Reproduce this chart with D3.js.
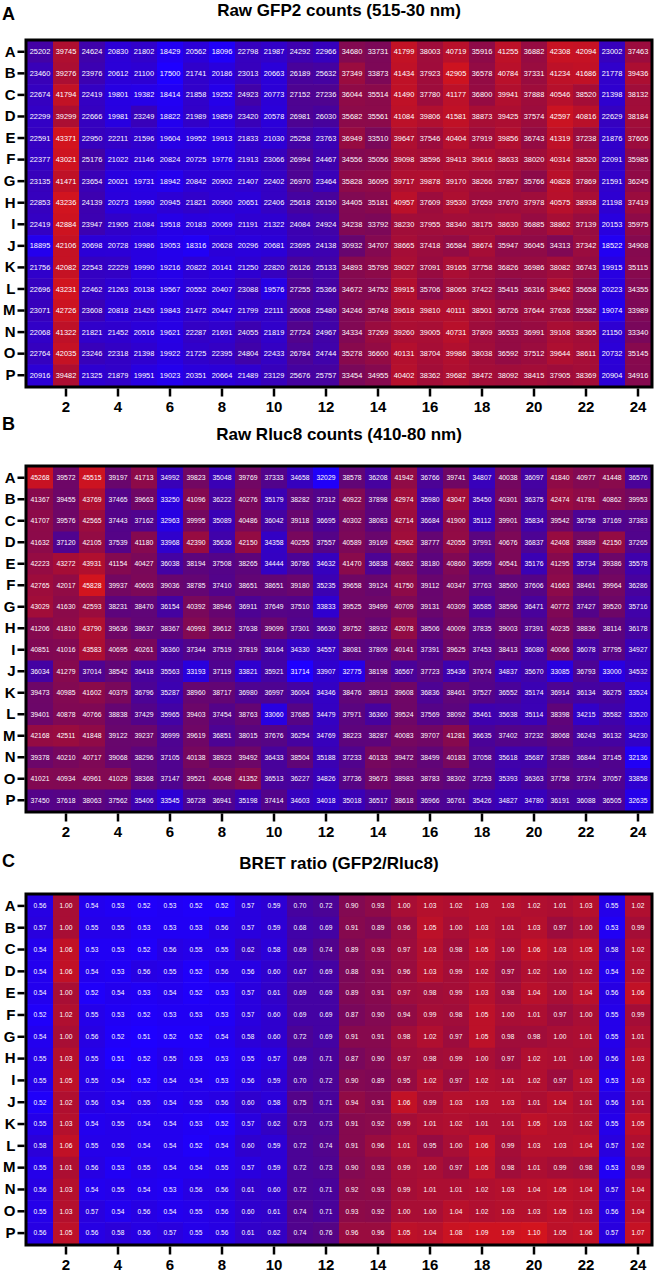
<!DOCTYPE html>
<html>
<head>
<meta charset="utf-8">
<script src="https://cdn.jsdelivr.net/npm/d3@7"></script>
<style>
  html, body { margin: 0; padding: 0; background: #fff; }
  svg { display: block; }
  text { font-family: "Liberation Sans", Arial, Helvetica, sans-serif; }
</style>
</head>
<body>
<svg id="chart" width="663" height="1275"></svg>
<script>
// ---------- categories ----------
const rowLabels = ["A","B","C","D","E","F","G","H","I","J","K","L","M","N","O","P"];
const colLabels = d3.range(1, 25);
const xTickLabels = [2,4,6,8,10,12,14,16,18,20,22,24];

// ---------- panel A: Raw GFP2 counts (515-30 nm) ----------
const gfp2Counts = [
  [25202,39745,24624,20830,21802,18429,20562,18096,22798,21987,24292,22966,34680,33731,41799,38003,40719,35916,41255,36882,42308,42094,23002,37463],
  [23460,39276,23976,20612,21100,17500,21741,20186,23013,20663,26189,25632,37349,33873,41434,37923,42905,36578,40784,37331,41234,41686,21778,39436],
  [22674,41794,22419,19801,19382,18414,21858,19252,24923,20773,27152,27236,36044,35514,41490,37780,41177,36800,39941,37888,40546,38520,21398,38132],
  [22299,39299,22666,19981,23249,18822,21989,19859,23420,20578,26981,26030,35682,35561,41084,39806,41581,38873,39425,37574,42597,40816,22629,38184],
  [22591,43371,22950,22211,21596,19604,19952,19913,21833,21030,25258,23763,36949,33510,39647,37546,40404,37919,39856,36743,41319,37238,21876,37605],
  [22377,43021,25176,21022,21146,20824,20725,19776,21913,23066,26994,24467,34556,35056,39098,38596,39413,39616,38633,38020,40314,38520,22091,35985],
  [23135,41471,23654,20021,19731,18942,20842,20902,21407,22402,26970,23464,35828,36095,39717,39878,39170,38266,37857,35766,40828,37869,21591,36245],
  [22853,43236,24139,20273,19990,20945,21821,20960,20651,22406,25618,26150,34405,35181,40957,37609,39530,37659,37670,37978,40575,38938,21198,37419],
  [22419,42884,23947,21905,21084,19518,20183,20069,21191,21322,24084,24924,34238,33792,38230,37955,38340,38175,38630,36885,38862,37139,20153,35975],
  [18895,42106,20698,20728,19986,19053,18316,20628,20296,20681,23695,24138,30932,34707,38665,37418,36584,38674,35947,36045,34313,37342,18522,34908],
  [21756,42082,22543,22229,19990,19216,20822,20141,21250,22820,26126,25133,34893,35795,39027,37091,39165,37758,36826,36986,38082,36743,19915,35115],
  [22696,43231,22462,21263,20138,19567,20552,20407,23088,19576,27255,25366,34672,34752,39915,35706,38065,37422,35415,36316,39462,35658,20223,34355],
  [23071,42726,23608,20818,21426,19843,21472,20447,21799,22111,26008,25480,34246,35748,39618,39810,40111,38501,36726,37644,37636,35582,19074,33989],
  [22068,41322,21821,21452,20516,19621,22287,21691,24055,21819,27724,24967,34334,37269,39260,39005,40731,37809,36533,36991,39108,38365,21150,33340],
  [22764,42035,23246,22318,21398,19922,21725,22395,24804,22433,26784,24744,35278,36600,40131,38704,39986,38038,36592,37512,39644,38611,20732,35145],
  [20916,39482,21325,21879,19951,19023,20351,20664,21489,23129,25676,25757,33454,34955,40402,38362,39682,38472,38092,38415,37905,38369,20904,34916]
];

// ---------- panel B: Raw Rluc8 counts (410-80 nm) ----------
const rluc8Counts = [
  [45268,39572,45515,39197,41713,34992,39823,35048,39769,37333,34658,32029,38578,36208,41942,36766,39741,34807,40038,36097,41840,40977,41448,36576],
  [41367,39455,43769,37465,39663,33250,41096,36222,40276,35179,38282,37312,40922,37898,42974,35980,43047,35450,40301,36375,42474,41781,40862,39953],
  [41707,39576,42565,37443,37162,32963,39995,35089,40486,36042,39118,36695,40302,38083,42714,36684,41900,35112,39901,35834,39542,36758,37169,37383],
  [41632,37120,42105,37539,41180,33968,42390,35636,42150,34358,40255,37557,40589,39169,42962,38777,42055,37991,40676,36837,42408,39889,42150,37265],
  [42223,43272,43931,41154,40427,36038,38194,37508,38265,34444,36786,34632,41470,36838,40862,38180,40860,36959,40541,35176,41295,35734,39386,35578],
  [42765,42017,45828,39937,40603,39036,38785,37410,38651,38651,39180,35235,39658,39124,41750,39112,40347,37763,38500,37606,41663,38461,39964,36286],
  [43029,41630,42593,38231,38470,36154,40392,38946,36911,37649,37510,33833,39525,39499,40709,39131,40309,36585,38596,36471,40772,37427,39520,35716],
  [41206,41810,43790,39636,38637,38367,40993,39612,37638,39099,37301,36630,39752,38932,42078,38506,40009,37835,39003,37391,40235,38836,38114,36178],
  [40851,41016,43583,40695,40261,36360,37344,37519,37819,36164,34330,34557,38081,37809,40141,37391,39625,37453,38413,36080,40066,36078,37795,34927],
  [36034,41279,37014,38542,36418,35563,33193,37119,33821,35921,31714,33907,32775,38198,36567,37723,35436,37674,34837,35670,33085,36793,33000,34532],
  [39473,40985,41602,40379,36796,35287,38960,38717,36980,36997,36004,34346,38476,38913,39608,36836,38461,37527,36552,35174,36914,36134,36275,33524],
  [39401,40878,40766,38838,37429,35965,39403,37454,38763,33060,37685,34479,37971,36360,39524,37569,38092,35461,35638,35114,38398,34215,35582,33520],
  [42168,42511,41848,39122,39237,36999,39619,36851,38015,37676,36254,34769,38223,38287,40083,39707,41281,36635,37402,37232,38068,36243,36132,34230],
  [39378,40210,40717,39068,38296,37105,40138,38923,39492,36433,38504,35188,37233,40133,39472,38499,40183,37058,35618,35687,37389,36844,37145,32136],
  [41021,40934,40961,41029,38368,37147,39521,40048,41352,36513,36227,34826,37736,39673,38983,38783,38302,37253,35393,36363,37758,37374,37057,33858],
  [37450,37618,38063,37562,35406,33545,36728,36941,35198,37414,34603,34018,35018,36517,38618,36966,36761,35426,34827,34780,36191,36088,36505,32635]
];

// ---------- panel C: BRET ratio (GFP2/Rluc8) ----------
const bretRatio = [
  [0.56,1.00,0.54,0.53,0.52,0.53,0.52,0.52,0.57,0.59,0.70,0.72,0.90,0.93,1.00,1.03,1.02,1.03,1.03,1.02,1.01,1.03,0.55,1.02],
  [0.57,1.00,0.55,0.55,0.53,0.53,0.53,0.56,0.57,0.59,0.68,0.69,0.91,0.89,0.96,1.05,1.00,1.03,1.01,1.03,0.97,1.00,0.53,0.99],
  [0.54,1.06,0.53,0.53,0.52,0.56,0.55,0.55,0.62,0.58,0.69,0.74,0.89,0.93,0.97,1.03,0.98,1.05,1.00,1.06,1.03,1.05,0.58,1.02],
  [0.54,1.06,0.54,0.53,0.56,0.55,0.52,0.56,0.56,0.60,0.67,0.69,0.88,0.91,0.96,1.03,0.99,1.02,0.97,1.02,1.00,1.02,0.54,1.02],
  [0.54,1.00,0.52,0.54,0.53,0.54,0.52,0.53,0.57,0.61,0.69,0.69,0.89,0.91,0.97,0.98,0.99,1.03,0.98,1.04,1.00,1.04,0.56,1.06],
  [0.52,1.02,0.55,0.53,0.52,0.53,0.53,0.53,0.57,0.60,0.69,0.69,0.87,0.90,0.94,0.99,0.98,1.05,1.00,1.01,0.97,1.00,0.55,0.99],
  [0.54,1.00,0.56,0.52,0.51,0.52,0.52,0.54,0.58,0.60,0.72,0.69,0.91,0.91,0.98,1.02,0.97,1.05,0.98,0.98,1.00,1.01,0.55,1.01],
  [0.55,1.03,0.55,0.51,0.52,0.55,0.53,0.53,0.55,0.57,0.69,0.71,0.87,0.90,0.97,0.98,0.99,1.00,0.97,1.02,1.01,1.00,0.56,1.03],
  [0.55,1.05,0.55,0.54,0.52,0.54,0.54,0.53,0.56,0.59,0.70,0.72,0.90,0.89,0.95,1.02,0.97,1.02,1.01,1.02,0.97,1.03,0.53,1.03],
  [0.52,1.02,0.56,0.54,0.55,0.54,0.55,0.56,0.60,0.58,0.75,0.71,0.94,0.91,1.06,0.99,1.03,1.03,1.03,1.01,1.04,1.01,0.56,1.01],
  [0.55,1.03,0.54,0.55,0.54,0.54,0.53,0.52,0.57,0.62,0.73,0.73,0.91,0.92,0.99,1.01,1.02,1.01,1.01,1.05,1.03,1.02,0.55,1.05],
  [0.58,1.06,0.55,0.55,0.54,0.54,0.52,0.54,0.60,0.59,0.72,0.74,0.91,0.96,1.01,0.95,1.00,1.06,0.99,1.03,1.03,1.04,0.57,1.02],
  [0.55,1.01,0.56,0.53,0.55,0.54,0.54,0.55,0.57,0.59,0.72,0.73,0.90,0.93,0.99,1.00,0.97,1.05,0.98,1.01,0.99,0.98,0.53,0.99],
  [0.56,1.03,0.54,0.55,0.54,0.53,0.56,0.56,0.61,0.60,0.72,0.71,0.92,0.93,0.99,1.01,1.01,1.02,1.03,1.04,1.05,1.04,0.57,1.04],
  [0.55,1.03,0.57,0.54,0.56,0.54,0.55,0.56,0.60,0.61,0.74,0.71,0.93,0.92,1.00,1.00,1.04,1.02,1.03,1.03,1.05,1.03,0.56,1.04],
  [0.56,1.05,0.56,0.58,0.56,0.57,0.55,0.56,0.61,0.62,0.74,0.76,0.96,0.96,1.05,1.04,1.08,1.09,1.09,1.10,1.05,1.06,0.57,1.07]
];

const panelTitles = ["Raw GFP2 counts (515-30 nm)", "Raw Rluc8 counts (410-80 nm)", "BRET ratio (GFP2/Rluc8)"];
const panelLetters = ["A", "B", "C"];

// ---------- layout ----------
const W = 663;
const left = 27, right = 651;
const panels = [
  { data: gfp2Counts, top: 41,  bottom: 386,  fmt: d3.format("d"),   fs: 7.4, letterY: 20,  titleY: 16 },
  { data: rluc8Counts, top: 467, bottom: 811, fmt: d3.format("d"),   fs: 6.8, letterY: 430, titleY: 440 },
  { data: bretRatio,  top: 895, bottom: 1244, fmt: d3.format(".2f"), fs: 6.6, letterY: 867, titleY: 869 }
];

const blue = "#1e00ff", red = "#d2141e";
const svg = d3.select("#chart");
svg.append("rect").attr("width", W).attr("height", 1275).attr("fill", "#fff");

const x = d3.scaleBand().domain(colLabels).range([left, right]).padding(0);

panels.forEach((p, i) => {
  const g = svg.append("g");
  const y = d3.scaleBand().domain(rowLabels).range([p.top, p.bottom]).padding(0);
  const flat = [];
  p.data.forEach((row, ri) => row.forEach((v, ci) => flat.push({ r: rowLabels[ri], c: colLabels[ci], v })));
  const color = d3.scaleLinear()
    .domain(d3.extent(flat, d => d.v))
    .range([blue, red])
    .interpolate(d3.interpolateRgb.gamma(0.5));

  // cells
  g.selectAll("rect.cell").data(flat).join("rect")
    .attr("class", "cell")
    .attr("x", d => x(d.c))
    .attr("y", d => y(d.r))
    .attr("width", x.bandwidth() + 0.5)
    .attr("height", y.bandwidth() + 0.5)
    .attr("fill", d => color(d.v));

  g.selectAll("text.val").data(flat).join("text")
    .attr("class", "val")
    .attr("x", d => x(d.c) + x.bandwidth() / 2)
    .attr("y", d => y(d.r) + y.bandwidth() / 2)
    .attr("dy", "0.35em")
    .attr("text-anchor", "middle")
    .attr("font-size", p.fs)
    .attr("fill", "#fff")
    .text(d => p.fmt(d.v));

  // frame
  g.append("rect")
    .attr("x", left - 1).attr("y", p.top - 1)
    .attr("width", right - left + 2).attr("height", p.bottom - p.top + 2)
    .attr("fill", "none").attr("stroke", "#000").attr("stroke-width", 3);

  // left axis
  const yAxis = d3.axisLeft(y).tickSize(7).tickPadding(2);
  const ya = g.append("g").attr("transform", `translate(${left - 2.5},0)`).call(yAxis);
  ya.select(".domain").remove();
  ya.selectAll(".tick line").attr("stroke", "#000").attr("stroke-width", 2.5);
  ya.selectAll(".tick text").attr("font-size", 15).attr("font-weight", "bold")
    .attr("fill", "#000").attr("font-family", "'Liberation Sans', Arial, sans-serif");

  // bottom axis
  const xAxis = d3.axisBottom(x).tickValues(xTickLabels).tickSize(8).tickPadding(5);
  const xa = g.append("g").attr("transform", `translate(0,${p.bottom + 2.5})`).call(xAxis);
  xa.select(".domain").remove();
  xa.selectAll(".tick line").attr("stroke", "#000").attr("stroke-width", 2.5);
  xa.selectAll(".tick text").attr("font-size", 15).attr("font-weight", "bold")
    .attr("fill", "#000").attr("font-family", "'Liberation Sans', Arial, sans-serif");

  // panel letter and title
  svg.append("text").attr("x", 2).attr("y", p.letterY)
    .attr("font-size", 18).attr("font-weight", "bold").attr("fill", "#000")
    .text(panelLetters[i]);
  svg.append("text").attr("x", (left + right) / 2).attr("y", p.titleY)
    .attr("text-anchor", "middle")
    .attr("font-size", 17).attr("font-weight", "bold").attr("fill", "#000")
    .text(panelTitles[i]);
});
</script>
</body>
</html>
